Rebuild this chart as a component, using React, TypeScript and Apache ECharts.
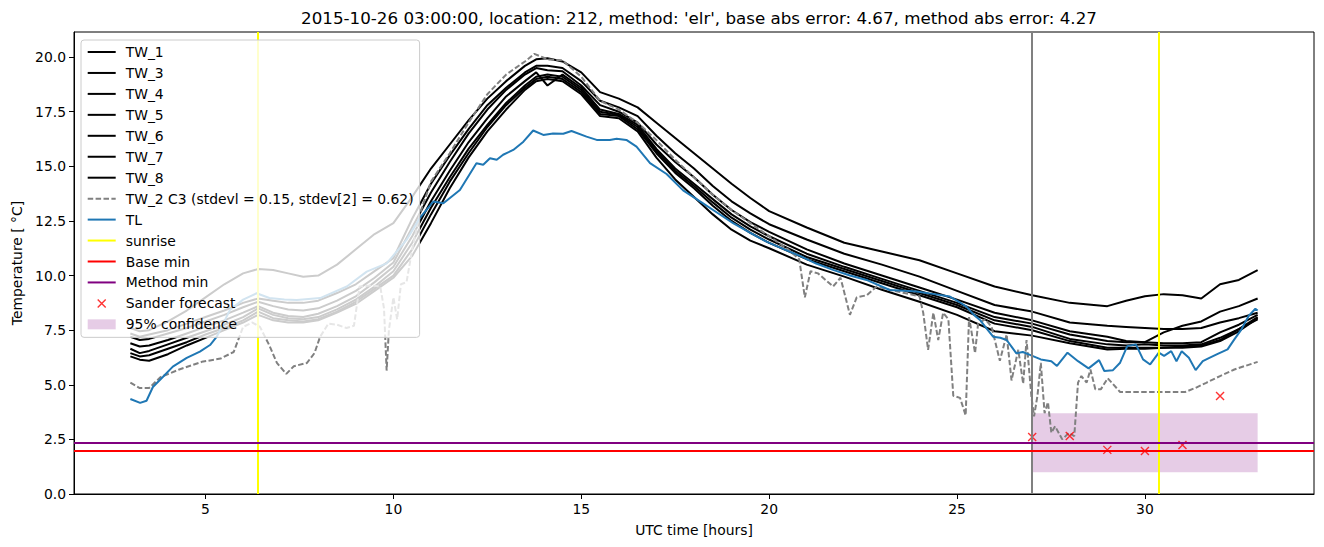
import React, { useEffect, useRef } from "react";
import * as echarts from "echarts";

// ---------- data ----------
const titleText =
  "2015-10-26 03:00:00, location: 212, method: 'elr', base abs error: 4.67, method abs error: 4.27";

const xTicks = [5, 10, 15, 20, 25, 30];
const yTicks = [0, 2.5, 5, 7.5, 10, 12.5, 15, 17.5, 20];

const hours = [3, 3.25, 3.5, 4, 4.5, 5, 5.5, 6, 6.4, 6.8, 7.2, 7.6, 8, 8.5, 9, 9.5, 10, 10.5, 11, 11.5, 12, 12.5, 13, 13.5, 13.8, 14.1, 14.5, 15, 15.5, 16, 16.5, 17, 17.5, 18, 18.5, 19, 19.5, 20, 21, 22, 23, 24, 25, 26, 27, 28, 29, 29.5, 30, 30.5, 31, 31.5, 32, 32.5, 33];

const tw1 = [7.6, 7.45, 7.5, 7.9, 8.4, 9.0, 9.6, 10.1, 10.3, 10.25, 10.1, 9.95, 10.0, 10.5, 11.2, 11.9, 12.4, 13.6, 14.9, 16.0, 17.1, 18.1, 18.9, 19.6, 19.9, 19.95, 19.8, 19.3, 18.4, 18.1, 17.7, 17.0, 16.3, 15.6, 14.9, 14.2, 13.55, 12.95, 12.2, 11.5, 11.1, 10.7, 10.1, 9.5, 9.1, 8.75, 8.6, 8.85, 9.05, 9.15, 9.1, 8.95, 9.6, 9.8, 10.25];
const tw3 = [7.35, 7.2, 7.3, 7.5, 7.8, 8.1, 8.4, 8.75, 8.95, 8.85, 8.75, 8.75, 8.85, 9.2, 9.6, 10.2, 10.8, 12.6, 14.2, 15.5, 16.7, 17.8, 18.6, 19.3, 19.6, 19.6, 19.5, 18.9, 18.0, 17.7, 17.3, 16.4, 15.6, 14.9, 14.1, 13.4, 12.85, 12.35, 11.65, 11.0, 10.5, 9.95, 9.3, 8.65, 8.35, 7.85, 7.7, 7.65, 7.6, 7.55, 7.55, 7.6, 7.85, 8.05, 8.3];
const tw4 = [7.2, 7.05, 7.1, 7.35, 7.6, 7.9, 8.2, 8.55, 8.8, 8.6, 8.45, 8.4, 8.5, 8.85, 9.3, 9.9, 10.6, 12.2, 13.8, 15.2, 16.5, 17.6, 18.5, 19.2, 19.5, 19.4, 19.35, 18.7, 17.8, 17.5, 17.0, 16.0, 15.2, 14.5, 13.7, 13.0, 12.45, 12.0, 11.2, 10.55, 10.0, 9.45, 8.9, 8.3, 7.95, 7.45, 7.2, 7.0, 6.95, 7.4, 7.7, 7.9, 8.35, 8.6, 8.95];
const tw5 = [6.9, 6.75, 6.8, 7.05, 7.35, 7.65, 7.95, 8.3, 8.6, 8.3, 8.15, 8.1, 8.25, 8.6, 9.05, 9.7, 10.4, 11.8, 13.4, 14.8, 16.1, 17.2, 18.2, 18.9, 19.3, 18.7, 19.2, 18.6, 17.6, 17.4, 16.9, 15.8, 14.9, 14.2, 13.5, 12.8, 12.25, 11.8, 11.0, 10.4, 9.85, 9.3, 8.75, 8.1, 7.8, 7.3, 7.0, 6.95, 6.95, 6.9, 6.9, 6.95, 7.4, 7.75, 8.2];
const tw6 = [6.65, 6.45, 6.55, 6.85, 7.15, 7.45, 7.75, 8.1, 8.5, 8.2, 8.05, 8.0, 8.1, 8.45, 8.9, 9.5, 10.2, 11.5, 13.1, 14.5, 15.8, 16.9, 17.9, 18.7, 19.1, 19.2, 19.1, 18.5, 17.5, 17.35, 16.8, 15.7, 14.8, 14.1, 13.35, 12.65, 12.1, 11.65, 10.85, 10.3, 9.75, 9.2, 8.65, 7.95, 7.65, 7.1, 6.85, 6.8, 6.85, 6.8, 6.8, 6.85, 7.15, 7.55, 8.1];
const tw7 = [6.45, 6.3, 6.35, 6.65, 6.95, 7.3, 7.6, 7.95, 8.35, 8.05, 7.95, 7.9, 8.0, 8.35, 8.8, 9.4, 10.0, 11.2, 12.8, 14.3, 15.6, 16.8, 17.8, 18.6, 19.0, 19.1, 19.0, 18.4, 17.4, 17.3, 16.7, 15.6, 14.7, 14.0, 13.2, 12.5, 11.95, 11.5, 10.75, 10.2, 9.65, 9.1, 8.55, 7.8, 7.5, 7.0, 6.7, 6.7, 6.7, 6.7, 6.7, 6.75, 7.0, 7.45, 8.05];
const tw8 = [6.3, 6.15, 6.1, 6.4, 6.8, 7.15, 7.5, 7.85, 8.2, 7.95, 7.85, 7.85, 7.95, 8.3, 8.7, 9.3, 9.9, 10.9, 12.4, 14.0, 15.4, 16.6, 17.6, 18.5, 18.9, 19.0, 18.9, 18.3, 17.3, 17.2, 16.6, 15.4, 14.4, 13.6, 12.8, 12.1, 11.6, 11.25, 10.5, 9.95, 9.35, 8.8, 8.2, 7.45, 7.25, 6.9, 6.62, 6.65, 6.65, 6.7, 6.75, 6.8, 7.05, 7.55, 8.0];

const tw2Points: [number, number][] = [
  [3, 5.1], [3.25, 4.85], [3.5, 4.85], [3.8, 5.35], [4.3, 5.7], [4.9, 6.05], [5.4, 6.2], [5.75, 6.5],
  [6.0, 7.65], [6.25, 7.85], [6.45, 7.65], [6.7, 6.8], [6.9, 6.0], [7.15, 5.5], [7.35, 5.85], [7.7, 6.0],
  [7.9, 6.45], [8.05, 7.2], [8.27, 7.8], [8.5, 7.75], [8.75, 7.6], [8.95, 7.7], [9.1, 9.5], [9.4, 9.55],
  [9.65, 9.5], [9.75, 8.5], [9.82, 5.65], [9.88, 7.5], [10.0, 9.0], [10.1, 8.0], [10.2, 9.6], [10.35, 9.7],
  [10.5, 11.2], [10.7, 12.8], [11, 14.3], [11.5, 15.6], [12, 17.0], [12.5, 18.3], [13, 19.2], [13.5, 19.8],
  [13.75, 20.15], [14.1, 19.9], [14.5, 19.85], [15, 19.1], [15.5, 18.0], [16, 17.6], [16.5, 17.0], [17, 16.2],
  [17.5, 15.3], [18, 14.5], [18.5, 13.7], [19, 13.0], [19.5, 12.4], [20, 11.8], [20.5, 11.2], [20.8, 10.75],
  [20.95, 9.0], [21.1, 10.2], [21.3, 10.1], [21.5, 9.8], [21.7, 9.5], [21.9, 9.9], [22.15, 8.2], [22.33, 9.0],
  [22.6, 9.1], [22.86, 9.5], [23.2, 9.35], [23.6, 9.2], [24.0, 9.05], [24.1, 8.3], [24.23, 6.6], [24.37, 8.3],
  [24.5, 7.05], [24.63, 8.3], [24.77, 8.0], [24.9, 4.5], [25.08, 4.4], [25.23, 3.6], [25.32, 8.1], [25.48, 6.45],
  [25.56, 7.8], [25.75, 8.0], [25.92, 7.65], [26.14, 6.1], [26.32, 7.3], [26.45, 5.2], [26.63, 6.6], [26.76, 5.05],
  [26.85, 7.05], [26.98, 4.45], [27.05, 3.55], [27.14, 4.5], [27.23, 6.0], [27.33, 3.7], [27.42, 4.2], [27.51, 2.8],
  [27.61, 3.1], [27.8, 2.5], [27.98, 2.8], [28.12, 2.65], [28.22, 5.1], [28.31, 5.4], [28.45, 5.1], [28.55, 5.7],
  [28.68, 4.8], [28.83, 4.8], [29.01, 5.3], [29.34, 4.67], [29.76, 4.67], [30.5, 4.67], [31.07, 4.67], [31.35, 4.86],
  [31.63, 5.09], [32.0, 5.4], [32.38, 5.7], [33, 6.05],
];

const tlPoints: [number, number][] = [
  [3, 4.35], [3.26, 4.17], [3.43, 4.27], [3.6, 4.9], [3.87, 5.37], [4.13, 5.83], [4.5, 6.23], [4.85, 6.52],
  [5.12, 6.82], [5.3, 7.2], [5.65, 8.43], [6.0, 8.9], [6.36, 9.19], [6.7, 8.97], [7.1, 8.9], [7.43, 8.88],
  [8.05, 8.97], [8.76, 9.5], [9.29, 10.18], [9.82, 10.56], [10.35, 11.63], [10.7, 12.63], [11.06, 13.39], [11.33, 13.31],
  [11.77, 13.92], [12.21, 15.14], [12.39, 15.07], [12.57, 15.37], [12.75, 15.3], [12.92, 15.53], [13.19, 15.75], [13.46, 16.13],
  [13.72, 16.64], [13.99, 16.44], [14.25, 16.5], [14.52, 16.49], [14.74, 16.62], [15.14, 16.36], [15.41, 16.21], [15.76, 16.21],
  [15.94, 16.26], [16.2, 16.21], [16.47, 15.9], [16.83, 15.15], [17.27, 14.65], [17.71, 13.9], [18.16, 13.4], [18.6, 12.9],
  [19.04, 12.4], [19.5, 11.95], [19.93, 11.55], [20.4, 11.2], [20.82, 10.9], [21.25, 10.55], [21.7, 10.26], [22.15, 10.0],
  [22.59, 9.8], [23.21, 9.34], [23.6, 9.3], [23.92, 9.27], [24.4, 9.15], [24.81, 9.04], [25.05, 8.8], [25.25, 8.58],
  [25.45, 8.2], [25.61, 7.97], [25.8, 7.55], [25.96, 7.2], [26.15, 7.15], [26.32, 7.05], [26.45, 6.75], [26.58, 6.44],
  [26.75, 6.5], [26.94, 6.37], [27.23, 6.16], [27.51, 6.08], [27.66, 5.86], [27.94, 6.47], [28.22, 6.08], [28.5, 5.75],
  [28.78, 6.13], [28.92, 5.63], [29.15, 5.67], [29.34, 6.01], [29.53, 6.77], [29.76, 6.85], [29.95, 6.16], [30.14, 5.93],
  [30.37, 6.47], [30.51, 6.32], [30.7, 6.54], [30.84, 6.08], [30.98, 6.54], [31.17, 6.24], [31.35, 5.67], [31.54, 6.08],
  [31.73, 6.24], [31.91, 6.39], [32.2, 6.62], [32.38, 7.08], [32.57, 7.54], [32.76, 8.15], [32.94, 8.48], [33, 8.4],
];

const sunriseHours = [6.4, 30.37];
const forecastTime = 27;
const baseMin = 1.98;
const methodMin = 2.36;
const forecastHours = [27, 28, 29, 30, 31, 32];
const forecastValues = [2.61, 2.66, 2.02, 1.97, 2.24, 4.49];
const confidence = [[27, 33, 1.0, 3.7]];

const xMin = 1.5;
const xMax = 34.5;
const yMin = 0;
const yMax = 21.15;

// ---------- styles ----------
const FONT = "DejaVu Sans";
const LINE_ICON = "path://M0,0M28,14M0,6H28V8H0Z";
const DASH_ICON = "path://M0,0M28,14M0,6H5.5V8H0Z M7.9,6H13.4V8H7.9Z M15.8,6H21.3V8H15.8Z M23.7,6H28V8H23.7Z";
const RECT_ICON = "path://M0,0M28,14M0,2H28V12H0Z";
const X_ICON = "path://M0,0M28,14M10,3L18,11M18,3L10,11";
const X_SYMBOL = "path://M0,0L10,10M10,0L0,10";

const twSeries = [
  { name: "TW_1", values: tw1 },
  { name: "TW_3", values: tw3 },
  { name: "TW_4", values: tw4 },
  { name: "TW_5", values: tw5 },
  { name: "TW_6", values: tw6 },
  { name: "TW_7", values: tw7 },
  { name: "TW_8", values: tw8 },
];

const tw2Name = "TW_2 C3 (stdevl = 0.15, stdev[2] = 0.62)";

function buildOption() {
  const series: any[] = [];
  twSeries.forEach((s) => {
    series.push({
      type: "line",
      name: s.name,
      data: hours.map((h, i) => [h, s.values[i]]),
      symbol: "none",
      lineStyle: { color: "#000000", width: 2 },
      itemStyle: { color: "#000000" },
      silent: true,
    });
  });
  series.push({
    type: "line",
    name: tw2Name,
    data: tw2Points,
    symbol: "none",
    lineStyle: { color: "#808080", width: 2, type: [5.5, 2.4] },
    itemStyle: { color: "#808080" },
    silent: true,
  });
  series.push({
    type: "line",
    name: "TL",
    data: tlPoints,
    symbol: "none",
    lineStyle: { color: "#1f77b4", width: 2 },
    itemStyle: { color: "#1f77b4" },
    silent: true,
  });
  series.push({
    type: "line",
    name: "forecast time",
    data: [],
    symbol: "none",
    itemStyle: { color: "#808080" },
    markLine: {
      silent: true,
      symbol: ["none", "none"],
      label: { show: false },
      lineStyle: { color: "#808080", width: 2, type: "solid" },
      data: [{ xAxis: forecastTime }],
    },
  });
  series.push({
    type: "line",
    name: "sunrise",
    data: [],
    symbol: "none",
    itemStyle: { color: "#ffff00" },
    markLine: {
      silent: true,
      symbol: ["none", "none"],
      label: { show: false },
      lineStyle: { color: "#ffff00", width: 2, type: "solid" },
      data: sunriseHours.map((h) => ({ xAxis: h })),
    },
  });
  series.push({
    type: "line",
    name: "Base min",
    data: [],
    symbol: "none",
    itemStyle: { color: "#ff0000" },
    markLine: {
      silent: true,
      symbol: ["none", "none"],
      label: { show: false },
      lineStyle: { color: "#ff0000", width: 2, type: "solid" },
      data: [{ yAxis: baseMin }],
    },
  });
  series.push({
    type: "line",
    name: "Method min",
    data: [],
    symbol: "none",
    itemStyle: { color: "#800080" },
    markLine: {
      silent: true,
      symbol: ["none", "none"],
      label: { show: false },
      lineStyle: { color: "#800080", width: 2, type: "solid" },
      data: [{ yAxis: methodMin }],
    },
  });
  series.push({
    type: "custom",
    name: "95% confidence",
    data: confidence,
    encode: { x: [0, 1], y: [2, 3] },
    itemStyle: { color: "rgba(128,0,128,0.2)" },
    silent: true,
    z: 3,
    renderItem: (params: any, api: any) => {
      const p1 = api.coord([api.value(0), api.value(3)]);
      const p2 = api.coord([api.value(1), api.value(2)]);
      return {
        type: "rect",
        shape: { x: p1[0], y: p1[1], width: p2[0] - p1[0], height: p2[1] - p1[1] },
        style: { fill: "rgba(128,0,128,0.2)" },
      };
    },
  });
  series.push({
    type: "scatter",
    name: "Sander forecast",
    data: forecastHours.map((h, i) => [h, forecastValues[i]]),
    symbol: X_SYMBOL,
    symbolSize: 8,
    itemStyle: { color: "rgba(0,0,0,0)", borderColor: "#ff0000", borderWidth: 1.4 },
    silent: true,
    z: 4,
  });

  const lineItem = (name: string, color: string, icon = LINE_ICON) => ({
    name,
    icon,
    itemStyle: { color, borderWidth: 0 },
  });

  const legendData = [
    ...twSeries.map((s) => lineItem(s.name, "#000000")),
    lineItem(tw2Name, "#808080", DASH_ICON),
    lineItem("TL", "#1f77b4"),
    lineItem("sunrise", "#ffff00"),
    lineItem("Base min", "#ff0000"),
    lineItem("Method min", "#800080"),
    {
      name: "Sander forecast",
      icon: X_ICON,
      itemStyle: { color: "rgba(0,0,0,0)", borderColor: "#ff0000", borderWidth: 1.4 },
    },
    lineItem("95% confidence", "rgba(128,0,128,0.2)", RECT_ICON),
  ];

  const axisFont = { color: "#000000", fontSize: 13.9, fontFamily: FONT };

  return {
    animation: false,
    backgroundColor: "#ffffff",
    title: {
      text: titleText,
      left: 694,
      top: 4,
      textAlign: "center",
      textStyle: { fontSize: 16.7, fontWeight: "normal", fontFamily: FONT, color: "#000000" },
    },
    grid: {
      left: 74,
      right: 10,
      top: 32,
      bottom: 53,
      show: true,
      borderColor: "#000000",
      borderWidth: 1,
      backgroundColor: "transparent",
    },
    legend: {
      orient: "vertical",
      left: 81,
      top: 40,
      z: 20,
      padding: [4, 6, 5, 6],
      itemWidth: 28,
      itemHeight: 14,
      itemGap: 4.95,
      selectedMode: false,
      backgroundColor: "rgba(255,255,255,0.8)",
      borderColor: "#cccccc",
      borderWidth: 1,
      borderRadius: 3,
      itemStyle: { borderWidth: 0 },
      textStyle: { ...axisFont, lineHeight: 16, padding: [0, 0, 0, 5] },
      data: legendData,
    },
    xAxis: {
      type: "value",
      min: xMin,
      max: xMax,
      name: "UTC time [hours]",
      nameLocation: "middle",
      nameGap: 29,
      nameTextStyle: axisFont,
      axisLine: { show: true, onZero: false, lineStyle: { color: "#000000", width: 1 } },
      axisTick: { show: true, length: 5, customValues: xTicks, lineStyle: { color: "#000000" } },
      axisLabel: { ...axisFont, margin: 8, customValues: xTicks },
      splitLine: { show: false },
    },
    yAxis: {
      type: "value",
      min: yMin,
      max: yMax,
      name: "Temperature [ °C]",
      nameLocation: "middle",
      nameGap: 48,
      nameTextStyle: axisFont,
      axisLine: { show: true, onZero: false, lineStyle: { color: "#000000", width: 1 } },
      axisTick: { show: true, length: 5, customValues: yTicks, lineStyle: { color: "#000000" } },
      axisLabel: {
        ...axisFont,
        margin: 8,
        customValues: yTicks,
        formatter: (v: number) => v.toFixed(1),
      },
      splitLine: { show: false },
    },
    series,
  };
}

export default function App() {
  const ref = useRef<HTMLDivElement>(null);
  useEffect(() => {
    if (!ref.current) return;
    const chart = echarts.init(ref.current, null, { renderer: "svg" });
    chart.setOption(buildOption() as any);
    return () => chart.dispose();
  }, []);
  return (
    <div
      ref={ref}
      style={{ position: "fixed", left: 0, top: 0, width: 1324, height: 547, background: "#fff" }}
    />
  );
}
